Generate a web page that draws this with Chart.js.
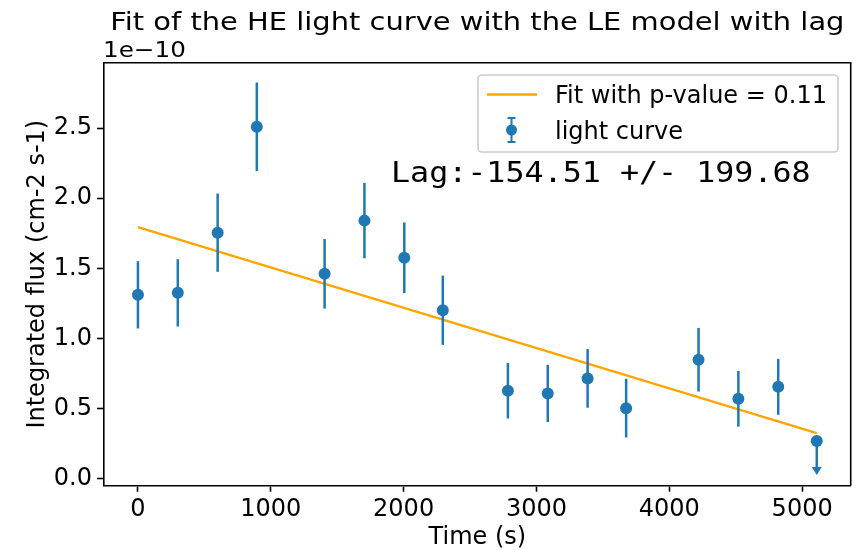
<!DOCTYPE html>
<html>
<head>
<meta charset="utf-8">
<script src="https://cdn.jsdelivr.net/npm/chart.js@4.4.1/dist/chart.umd.min.js"></script>
<style>
  html, body { margin: 0; padding: 0; background: #fff; }
  #wrap { width: 863px; height: 550px; }
</style>
</head>
<body>
<div id="wrap"><canvas id="lcChart" width="863" height="550"></canvas></div>
<script>
// Light curve data (flux in units of 1e-10 cm-2 s-1)
const times = [0, 300, 600, 895, 1405, 1705, 2005, 2295, 2785, 3085, 3385, 3675, 4220, 4520, 4820, 5110];
const flux = [1.311, 1.325, 1.754, 2.509, 1.461, 1.840, 1.575, 1.201, 0.627, 0.608, 0.715, 0.503, 0.848, 0.570, 0.655, 0.269];
const fluxErr = [0.240, 0.240, 0.279, 0.316, 0.248, 0.269, 0.252, 0.247, 0.198, 0.204, 0.209, 0.209, 0.227, 0.199, 0.199, 0.243];
const upperLimit = [false, false, false, false, false, false, false, false, false, false, false, false, false, false, false, true];

// Linear fit
const fitTimes = [0, 5110];
const fitFlux = [1.794, 0.3245];

// Axis ticks
const xTicks = [0, 1000, 2000, 3000, 4000, 5000];
const yTicks = [0.0, 0.5, 1.0, 1.5, 2.0, 2.5];

const BLUE = '#1f77b4';
const ORANGE = '#ffa500';
const FONT = "'DejaVu Sans', sans-serif";

// stretched text helper (reference glyphs are a bit wider than tall)
function wideText(ctx, text, x, y, sx) {
    ctx.save();
    ctx.translate(x, y);
    ctx.scale(sx, 1);
    ctx.fillText(text, 0, 0);
    ctx.restore();
}

// Error bars + upper limit arrow, drawn just before the scatter points
const errorBars = {
    id: 'errorBars',
    beforeDatasetDraw(chart, args) {
        if (args.index !== 1) return;
        const ctx = chart.ctx;
        const xs = chart.scales.x, ys = chart.scales.y;
        ctx.save();
        ctx.strokeStyle = BLUE;
        ctx.fillStyle = BLUE;
        ctx.lineWidth = 2.5;
        times.forEach((t, i) => {
            const px = xs.getPixelForValue(t);
            const lo = ys.getPixelForValue(flux[i] - fluxErr[i]);
            const hi = upperLimit[i] ? ys.getPixelForValue(flux[i]) : ys.getPixelForValue(flux[i] + fluxErr[i]);
            ctx.beginPath();
            ctx.moveTo(px, hi);
            ctx.lineTo(px, upperLimit[i] ? lo - 7 : lo);
            ctx.stroke();
            if (upperLimit[i]) {
                ctx.beginPath();
                ctx.moveTo(px - 5, lo - 8);
                ctx.lineTo(px + 5, lo - 8);
                ctx.lineTo(px, lo);
                ctx.closePath();
                ctx.fill();
            }
        });
        ctx.restore();
    }
};

// Title, offset label, frame, legend and lag annotation
const decorations = {
    id: 'decorations',
    afterDraw(chart) {
        const ctx = chart.ctx;
        const a = chart.chartArea;
        ctx.save();
        // frame top/right
        ctx.strokeStyle = '#000';
        ctx.lineWidth = 1.6;
        ctx.beginPath();
        ctx.moveTo(a.left, a.top);
        ctx.lineTo(a.right, a.top);
        ctx.lineTo(a.right, a.bottom);
        ctx.stroke();

        ctx.fillStyle = '#000';
        ctx.textBaseline = 'alphabetic';
        ctx.font = '24px ' + FONT;
        ctx.textAlign = 'center';
        wideText(ctx, 'Fit of the HE light curve with the LE model with lag', (a.left + a.right) / 2, 29.5, 1.205);
        ctx.textAlign = 'left';
        ctx.font = '22px ' + FONT;
        wideText(ctx, '1e\u221210', a.left - 1, 57, 1.12);

        // lag annotation
        ctx.font = "27.5px 'DejaVu Sans Mono', monospace";
        wideText(ctx, 'Lag:-154.51 +/- 199.68', 391, 182, 1.152);

        // legend
        const lx = 478, ly = 75, lw = 360, lh = 77;
        ctx.fillStyle = 'rgba(255,255,255,0.8)';
        ctx.strokeStyle = '#cccccc';
        ctx.lineWidth = 1.6;
        ctx.beginPath();
        ctx.roundRect(lx, ly, lw, lh, 4);
        ctx.fill();
        ctx.stroke();

        ctx.strokeStyle = ORANGE;
        ctx.lineWidth = 2.5;
        ctx.beginPath();
        ctx.moveTo(487, 94.5);
        ctx.lineTo(537, 94.5);
        ctx.stroke();

        ctx.strokeStyle = BLUE;
        ctx.fillStyle = BLUE;
        ctx.lineWidth = 2;
        ctx.beginPath();
        ctx.moveTo(511.5, 118); ctx.lineTo(511.5, 142);
        ctx.moveTo(507.5, 118); ctx.lineTo(515.5, 118);
        ctx.moveTo(507.5, 142); ctx.lineTo(515.5, 142);
        ctx.stroke();
        ctx.beginPath();
        ctx.arc(511.5, 130, 5.5, 0, Math.PI * 2);
        ctx.fill();

        ctx.fillStyle = '#000';
        ctx.font = '24px ' + FONT;
        ctx.textBaseline = 'alphabetic';
        ctx.fillText('Fit with p-value = 0.11', 555, 103.3);
        ctx.fillText('light curve', 555, 138.5);
        ctx.restore();
    }
};

new Chart(document.getElementById('lcChart'), {
    type: 'scatter',
    data: {
        datasets: [
            {
                type: 'line',
                label: 'Fit with p-value = 0.11',
                data: fitTimes.map((t, i) => ({ x: t, y: fitFlux[i] })),
                borderColor: ORANGE,
                borderWidth: 2.5,
                pointRadius: 0,
                fill: false,
                order: 2
            },
            {
                label: 'light curve',
                data: times.map((t, i) => ({ x: t, y: flux[i] })),
                backgroundColor: BLUE,
                borderColor: BLUE,
                borderWidth: 0,
                pointRadius: 6,
                order: 1
            }
        ]
    },
    options: {
        responsive: false,
        animation: false,
        events: [],
        layout: { padding: { top: 62.7, right: 12.3, left: 0, bottom: 0 } },
        plugins: {
            legend: { display: false },
            tooltip: { enabled: false }
        },
        scales: {
            x: {
                type: 'linear',
                min: -255.5,
                max: 5365.5,
                afterBuildTicks: s => { s.ticks = xTicks.map(v => ({ value: v })); },
                afterFit: s => { s.height = 64.3; },
                ticks: { color: '#000', font: { family: FONT, size: 24 }, padding: 4, maxRotation: 0, callback: v => String(v) },
                grid: { drawOnChartArea: false, tickLength: 6, tickWidth: 1.6, tickColor: '#000' },
                border: { color: '#000', width: 1.6 },
                title: { display: true, text: 'Time (s)', color: '#000', font: { family: FONT, size: 24 }, padding: { bottom: -2 } }
            },
            y: {
                min: -0.05,
                max: 2.966,
                afterBuildTicks: s => { s.ticks = yTicks.map(v => ({ value: v })); },
                afterFit: s => { s.width = 104; },
                ticks: { color: '#000', font: { family: FONT, size: 24 }, padding: 5, callback: v => v.toFixed(1) },
                grid: { drawOnChartArea: false, tickLength: 7, tickWidth: 1.6, tickColor: '#000' },
                border: { color: '#000', width: 1.6 },
                title: { display: true, text: 'Integrated flux (cm-2 s-1)', color: '#000', font: { family: FONT, size: 24 }, padding: { top: 23 } }
            }
        }
    },
    plugins: [errorBars, decorations]
});
</script>
</body>
</html>
